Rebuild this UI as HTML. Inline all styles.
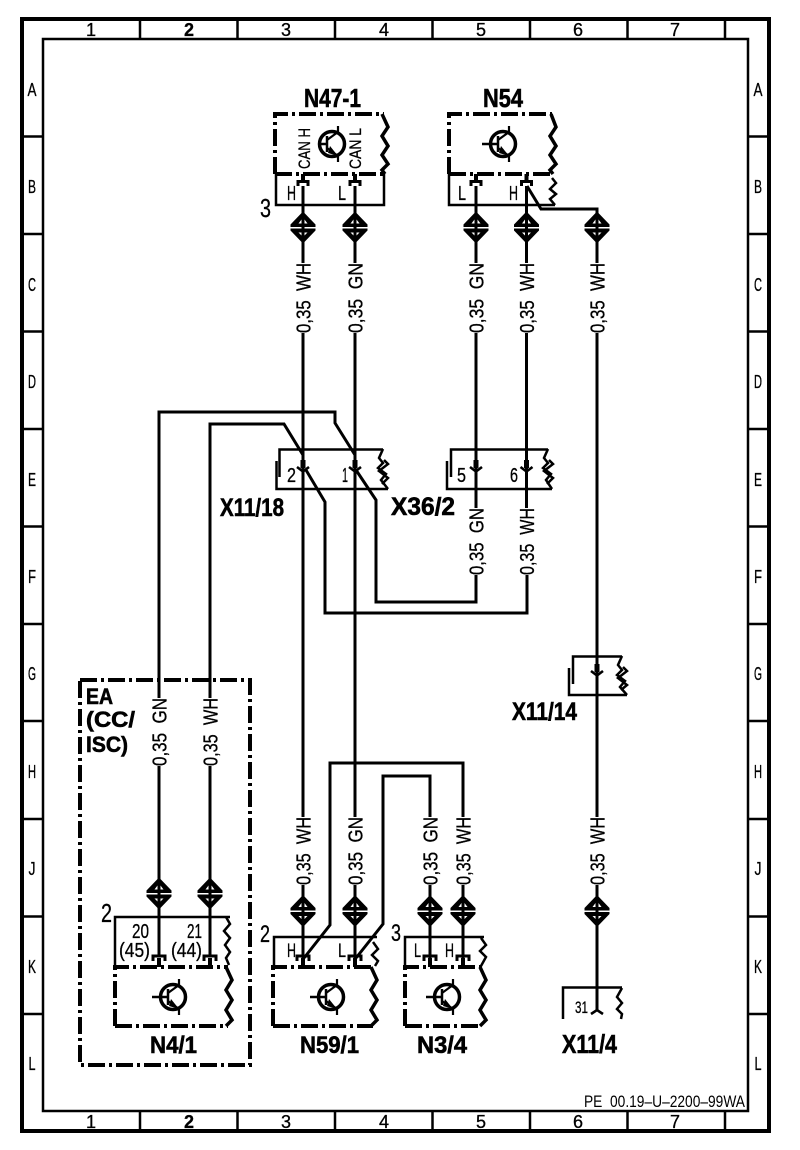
<!DOCTYPE html>
<html><head><meta charset="utf-8">
<style>
html,body{margin:0;padding:0;background:#fff;width:800px;height:1150px;overflow:hidden}
svg{display:block}
text{font-family:"Liberation Sans",sans-serif;fill:#000;stroke:none}
.b{font-weight:bold;stroke:#000;stroke-width:.6}
.l text{stroke:#000;stroke-width:.3}
.w{fill:none;stroke:#000;stroke-width:3}
.t{fill:none;stroke:#000;stroke-width:2.5}
.z{fill:none;stroke:#000;stroke-width:3.5}
.zs{fill:none;stroke:#000;stroke-width:2.5}
.d{fill:none;stroke:#000;stroke-width:4;stroke-dasharray:17 4 3 4}
</style></head><body>
<svg xmlns="http://www.w3.org/2000/svg" width="800" height="1150" viewBox="0 0 800 1150">
<defs>
<g id="dia">
<polygon points="0,-16 12.500,-3 12.500,-0.500 -12.500,-0.500 -12.500,-3" fill="#000"/>
<polygon points="0,16 12.500,3 12.500,1 -12.500,1 -12.500,3" fill="#000"/>
<polygon points="-4.500,-4 -1.500,-4 -1.500,-8" fill="#fff"/>
<polygon points="4.500,-4 1.500,-4 1.500,-8" fill="#fff"/>
<polygon points="-4.500,5 -1.500,5 -1.500,8" fill="#fff"/>
<polygon points="4.500,5 1.500,5 1.500,8" fill="#fff"/>
<rect x="-1.500" y="-2" width="3" height="4" fill="#000"/>
</g>
<g id="tr0">
<circle cx="0" cy="0" r="12.500" fill="none" stroke="#000" stroke-width="3.500"/>
<path d="M-5 -8V8" fill="none" stroke="#000" stroke-width="2.500"/>
<path d="M-5 -4L6 -12V-18M-5 4L6 12V18" fill="none" stroke="#000" stroke-width="2.200"/>
<polygon points="6,12 -2,2 -4,9" fill="#000"/>
</g>
<g id="tr">
<use href="#tr0"/>
<path d="M-21 0H-5" fill="none" stroke="#000" stroke-width="2.500"/>
</g>
<g id="pin">
<path d="M-5 12V7.500H5V12" fill="none" stroke="#000" stroke-width="3"/>
<rect x="-2" y="0" width="4" height="8" fill="#000"/>
</g>
<g id="chev">
<rect x="-2.500" y="-7" width="5" height="8" fill="#000"/>
<path d="M-6 0L0 4.500L6 0" fill="none" stroke="#000" stroke-width="2.600"/>
</g>
</defs>
<rect width="800" height="1150" fill="#fff"/>

<!-- frame -->
<rect x="22" y="19" width="747" height="1112" fill="none" stroke="#000" stroke-width="4"/>
<rect x="43" y="39" width="705" height="1072" fill="none" stroke="#000" stroke-width="2.500"/>
<path class="t" d="M140 19V39M237.500 19V39M335 19V39M432.500 19V39M530 19V39M627.500 19V39M725 19V39M140 1111V1131M237.500 1111V1131M335 1111V1131M432.500 1111V1131M530 1111V1131M627.500 1111V1131M725 1111V1131"/>
<path class="t" d="M22 136.500H43M22 234H43M22 331.500H43M22 429H43M22 526.500H43M22 624H43M22 721H43M22 819H43M22 916.500H43M22 1014H43M748 136.500H769M748 234H769M748 331.500H769M748 429H769M748 526.500H769M748 624H769M748 721H769M748 819H769M748 916.500H769M748 1014H769"/>
<g font-size="18" text-anchor="middle" class="l">
<text x="91" y="36">1</text><text x="189" y="36" class="b">2</text><text x="286" y="36">3</text><text x="384" y="36">4</text><text x="481" y="36">5</text><text x="578" y="36">6</text><text x="675" y="36">7</text>
<text x="91" y="1128">1</text><text x="189" y="1128" class="b">2</text><text x="286" y="1128">3</text><text x="384" y="1128">4</text><text x="481" y="1128">5</text><text x="578" y="1128">6</text><text x="675" y="1128">7</text>
<text x="32" y="96" textLength="9" lengthAdjust="spacingAndGlyphs">A</text><text x="32" y="193" textLength="8" lengthAdjust="spacingAndGlyphs">B</text><text x="32" y="291" textLength="8" lengthAdjust="spacingAndGlyphs">C</text><text x="32" y="388" textLength="8" lengthAdjust="spacingAndGlyphs">D</text><text x="32" y="486" textLength="8" lengthAdjust="spacingAndGlyphs">E</text><text x="32" y="583" textLength="8" lengthAdjust="spacingAndGlyphs">F</text><text x="32" y="680" textLength="8" lengthAdjust="spacingAndGlyphs">G</text><text x="32" y="778" textLength="8" lengthAdjust="spacingAndGlyphs">H</text><text x="32" y="875" textLength="7" lengthAdjust="spacingAndGlyphs">J</text><text x="32" y="973" textLength="8" lengthAdjust="spacingAndGlyphs">K</text><text x="32" y="1070" textLength="7" lengthAdjust="spacingAndGlyphs">L</text>
<text x="758" y="96" textLength="9" lengthAdjust="spacingAndGlyphs">A</text><text x="758" y="193" textLength="8" lengthAdjust="spacingAndGlyphs">B</text><text x="758" y="291" textLength="8" lengthAdjust="spacingAndGlyphs">C</text><text x="758" y="388" textLength="8" lengthAdjust="spacingAndGlyphs">D</text><text x="758" y="486" textLength="8" lengthAdjust="spacingAndGlyphs">E</text><text x="758" y="583" textLength="8" lengthAdjust="spacingAndGlyphs">F</text><text x="758" y="680" textLength="8" lengthAdjust="spacingAndGlyphs">G</text><text x="758" y="778" textLength="8" lengthAdjust="spacingAndGlyphs">H</text><text x="758" y="875" textLength="7" lengthAdjust="spacingAndGlyphs">J</text><text x="758" y="973" textLength="8" lengthAdjust="spacingAndGlyphs">K</text><text x="758" y="1070" textLength="7" lengthAdjust="spacingAndGlyphs">L</text>
</g>
<text x="584" y="1107" font-size="16.500" textLength="161" lengthAdjust="spacingAndGlyphs">PE&#160;&#160;00.19–U–2200–99WA</text>

<!-- wires -->
<g class="w">
<path class="w" d="M303 186V263M303 333V817M303 885V958"/>
<path class="w" d="M355 186V263M355 333V817M355 885V958"/>
<path class="w" d="M476 186V263M476 333V508"/>
<path class="w" d="M526.500 186V263M526.500 333V508"/>
<path class="w" d="M527 186L541 209H597V263M597 333V817M597 885V1010"/>
<path class="w" d="M159 698V412H335V423L355 455"/>
<path class="w" d="M210 698V424H284L303 455"/>
<path class="w" d="M356 470L376 500V602H476V575"/>
<path class="w" d="M306 470L325 502V613H527V575"/>
<path class="w" d="M159 766V956M210 766V956"/>
<path class="w" d="M304 958L330 925V763H463V817M463 885V958"/>
<path class="w" d="M356 958L383 924V776H430V817M430 885V958"/>
</g>

<!-- wire labels -->
<g font-size="20.500" class="l">
<text transform="translate(310.500,333) rotate(-90)" textLength="70" lengthAdjust="spacingAndGlyphs">0,35&#160;&#160;WH</text>
<text transform="translate(362.500,333) rotate(-90)" textLength="70" lengthAdjust="spacingAndGlyphs">0,35&#160;&#160;GN</text>
<text transform="translate(483.500,333) rotate(-90)" textLength="70" lengthAdjust="spacingAndGlyphs">0,35&#160;&#160;GN</text>
<text transform="translate(534,333) rotate(-90)" textLength="70" lengthAdjust="spacingAndGlyphs">0,35&#160;&#160;WH</text>
<text transform="translate(604.500,333) rotate(-90)" textLength="70" lengthAdjust="spacingAndGlyphs">0,35&#160;&#160;WH</text>
<text transform="translate(483.500,575) rotate(-90)" textLength="67" lengthAdjust="spacingAndGlyphs">0,35&#160;&#160;GN</text>
<text transform="translate(534,575) rotate(-90)" textLength="67" lengthAdjust="spacingAndGlyphs">0,35&#160;&#160;WH</text>
<text transform="translate(166.500,766) rotate(-90)" textLength="68" lengthAdjust="spacingAndGlyphs">0,35&#160;&#160;GN</text>
<text transform="translate(217.500,766) rotate(-90)" textLength="68" lengthAdjust="spacingAndGlyphs">0,35&#160;&#160;WH</text>
<text transform="translate(310.500,885) rotate(-90)" textLength="68" lengthAdjust="spacingAndGlyphs">0,35&#160;&#160;WH</text>
<text transform="translate(362.500,885) rotate(-90)" textLength="68" lengthAdjust="spacingAndGlyphs">0,35&#160;&#160;GN</text>
<text transform="translate(437.500,885) rotate(-90)" textLength="68" lengthAdjust="spacingAndGlyphs">0,35&#160;&#160;GN</text>
<text transform="translate(470.500,885) rotate(-90)" textLength="68" lengthAdjust="spacingAndGlyphs">0,35&#160;&#160;WH</text>
<text transform="translate(604.500,885) rotate(-90)" textLength="68" lengthAdjust="spacingAndGlyphs">0,35&#160;&#160;WH</text>
</g>

<!-- diamonds -->
<use href="#dia" x="303" y="227.500"/><use href="#dia" x="355" y="227.500"/><use href="#dia" x="476" y="227.500"/><use href="#dia" x="526.500" y="227.500"/><use href="#dia" x="597" y="227.500"/>
<use href="#dia" x="159" y="893.500"/><use href="#dia" x="210" y="893.500"/>
<use href="#dia" x="303" y="911"/><use href="#dia" x="355" y="911"/><use href="#dia" x="430" y="911"/><use href="#dia" x="463" y="911"/><use href="#dia" x="597" y="911"/>

<!-- N47-1 -->
<text x="304" y="107" font-size="26" class="b" textLength="57" lengthAdjust="spacingAndGlyphs">N47-1</text>
<path class="d" d="M275 174V114H384"/>
<path class="d" d="M275 174H384"/>
<path class="z" d="M382 114L388 127L382 136L388 146L382 155L388 164L382 170L385 174"/>
<path class="t" d="M276 174V205H384V174"/>
<use href="#tr0" x="332" y="144"/>
<path d="M318 144H327" fill="none" stroke="#000" stroke-width="2.500"/>
<g class="l">
<text transform="translate(310,169) rotate(-90)" font-size="17" textLength="41" lengthAdjust="spacingAndGlyphs">CAN&#160;H</text>
<text transform="translate(361,169) rotate(-90)" font-size="17" textLength="41" lengthAdjust="spacingAndGlyphs">CAN&#160;L</text>
</g>
<use href="#pin" x="303" y="174"/><use href="#pin" x="355" y="174"/>
<g class="l">
<text x="287" y="200" font-size="20" textLength="9" lengthAdjust="spacingAndGlyphs">H</text>
<text x="338" y="200" font-size="20" textLength="8" lengthAdjust="spacingAndGlyphs">L</text>
<text x="260" y="217" font-size="26" textLength="11" lengthAdjust="spacingAndGlyphs">3</text>
</g>

<!-- N54 -->
<text x="483" y="107" font-size="26" class="b" textLength="40" lengthAdjust="spacingAndGlyphs">N54</text>
<path class="d" d="M449 174V114H552"/>
<path class="d" d="M449 174H552"/>
<path class="z" d="M551 114L556 127L550 136L556 146L550 155L556 164L550 170L553 174"/>
<path class="t" d="M449 174V205H555"/>
<path class="zs" d="M552 178L556 183L550 189L556 194L550 199L555 205"/>
<use href="#tr" x="503" y="144"/>
<use href="#pin" x="476" y="174"/><use href="#pin" x="526.500" y="174"/>
<g class="l">
<text x="458" y="200" font-size="20" textLength="8" lengthAdjust="spacingAndGlyphs">L</text>
<text x="509" y="200" font-size="20" textLength="9" lengthAdjust="spacingAndGlyphs">H</text>
</g>

<!-- X11/18 -->
<path class="t" d="M279.500 477V449.500H383M276.500 461V489H388"/>
<path class="zs" d="M383 449L379 458L383 463L378 468L386 474L381 480L388 489"/>
<path class="zs" d="M384 460L388 464L379 471L388 478L382 484"/>
<use href="#chev" x="303" y="467"/><use href="#chev" x="355" y="467"/>
<g class="l">
<text x="287" y="482" font-size="20" textLength="9" lengthAdjust="spacingAndGlyphs">2</text>
<text x="342" y="482" font-size="20" textLength="6" lengthAdjust="spacingAndGlyphs">1</text>
</g>
<text x="220" y="516" font-size="25" class="b" textLength="64" lengthAdjust="spacingAndGlyphs">X11/18</text>

<!-- X36/2 -->
<path class="t" d="M451 477V449.500H548M447 461V489H552"/>
<path class="zs" d="M548 449L544 458L548 463L543 468L551 474L546 480L552 489"/>
<path class="zs" d="M549 460L553 464L544 471L553 478L547 484"/>
<use href="#chev" x="476" y="467"/><use href="#chev" x="526.500" y="467"/>
<g class="l">
<text x="457" y="482" font-size="20" textLength="9" lengthAdjust="spacingAndGlyphs">5</text>
<text x="510" y="482" font-size="20" textLength="8" lengthAdjust="spacingAndGlyphs">6</text>
</g>
<text x="391" y="515" font-size="25" class="b" textLength="64" lengthAdjust="spacingAndGlyphs">X36/2</text>

<!-- X11/14 -->
<path class="t" d="M573 684V656.500H622M569 668V695H627"/>
<path class="zs" d="M622 656L618 665L622 670L617 675L625 681L620 687L627 695"/>
<path class="zs" d="M623 667L627 671L618 678L627 685L621 690"/>
<use href="#chev" x="597" y="671"/>
<text x="512" y="720" font-size="25" class="b" textLength="65" lengthAdjust="spacingAndGlyphs">X11/14</text>

<!-- EA box -->
<path class="d" d="M80 680H250V1065H80Z"/>
<text x="86" y="704" font-size="22" class="b" textLength="27" lengthAdjust="spacingAndGlyphs">EA</text>
<text x="86" y="727" font-size="22" class="b" textLength="49" lengthAdjust="spacingAndGlyphs">(CC/</text>
<text x="86" y="752" font-size="22" class="b" textLength="42" lengthAdjust="spacingAndGlyphs">ISC)</text>

<!-- N4/1 -->
<path class="t" d="M115 967V917H230"/>
<path class="zs" d="M226 917L230 924L224 931L230 938L225 945L230 952L226 958L229 965"/>
<path class="d" d="M115 1026V967H228"/>
<path class="d" d="M115 1026H228"/>
<path class="z" d="M226 967L232 980L226 990L232 1000L226 1010L232 1020L226 1026"/>
<path d="M153 961V956H165V961M204 961V956H216V961" fill="none" stroke="#000" stroke-width="3"/>
<rect x="157" y="958" width="4" height="9" fill="#000"/><rect x="208" y="958" width="4" height="9" fill="#000"/>
<use href="#tr" x="173" y="997"/>
<g class="l">
<text x="101" y="922" font-size="26" textLength="11" lengthAdjust="spacingAndGlyphs">2</text>
<text x="132" y="938" font-size="20" textLength="17" lengthAdjust="spacingAndGlyphs">20</text>
<text x="119" y="957" font-size="20" textLength="31" lengthAdjust="spacingAndGlyphs">(45)</text>
<text x="187" y="938" font-size="20" textLength="15" lengthAdjust="spacingAndGlyphs">21</text>
<text x="171" y="957" font-size="20" textLength="31" lengthAdjust="spacingAndGlyphs">(44)</text>
</g>
<text x="150" y="1053" font-size="24" class="b" textLength="47" lengthAdjust="spacingAndGlyphs">N4/1</text>

<!-- N59/1 -->
<path class="t" d="M274 967V937H377"/>
<path class="zs" d="M373 942L378 949L372 955L378 961L375 966"/>
<path class="d" d="M273 1026V967H373"/>
<path class="d" d="M273 1026H373"/>
<path class="z" d="M371 967L377 980L371 990L377 1000L371 1010L377 1020L371 1026"/>
<path d="M297 961V956H309V961M349 961V956H361V961" fill="none" stroke="#000" stroke-width="3"/>
<rect x="301" y="958" width="4" height="9" fill="#000"/><rect x="353" y="958" width="4" height="9" fill="#000"/>
<use href="#tr" x="331" y="997"/>
<g class="l">
<text x="260" y="942" font-size="24" textLength="10" lengthAdjust="spacingAndGlyphs">2</text>
<text x="287" y="957" font-size="19" textLength="9" lengthAdjust="spacingAndGlyphs">H</text>
<text x="338" y="957" font-size="19" textLength="8" lengthAdjust="spacingAndGlyphs">L</text>
</g>
<text x="300" y="1053" font-size="24" class="b" textLength="59" lengthAdjust="spacingAndGlyphs">N59/1</text>

<!-- N3/4 -->
<path class="t" d="M405 967V937H484"/>
<path class="zs" d="M481 938L486 945L480 951L486 957L481 966"/>
<path class="d" d="M405 1026V967H482"/>
<path class="d" d="M405 1026H482"/>
<path class="z" d="M480 967L486 980L480 990L486 1000L480 1010L486 1020L480 1026"/>
<path d="M424 961V956H436V961M457 961V956H469V961" fill="none" stroke="#000" stroke-width="3"/>
<rect x="428" y="958" width="4" height="9" fill="#000"/><rect x="461" y="958" width="4" height="9" fill="#000"/>
<use href="#tr" x="447" y="997"/>
<g class="l">
<text x="391" y="941" font-size="24" textLength="10" lengthAdjust="spacingAndGlyphs">3</text>
<text x="414" y="957" font-size="19" textLength="7" lengthAdjust="spacingAndGlyphs">L</text>
<text x="445" y="957" font-size="19" textLength="9" lengthAdjust="spacingAndGlyphs">H</text>
</g>
<text x="417" y="1053" font-size="24" class="b" textLength="50" lengthAdjust="spacingAndGlyphs">N3/4</text>

<!-- X11/4 -->
<path class="t" d="M563 1019V987.500H622"/>
<path class="zs" d="M622 988L617 997L622 1003L617 1009L622 1014L621 1019"/>
<path d="M591 1014L597 1010L603 1014" fill="none" stroke="#000" stroke-width="2.600"/>
<g class="l"><text x="575" y="1013" font-size="17" textLength="13" lengthAdjust="spacingAndGlyphs">31</text></g>
<text x="562" y="1053" font-size="26" class="b" textLength="55" lengthAdjust="spacingAndGlyphs">X11/4</text>
</svg>
</body></html>
